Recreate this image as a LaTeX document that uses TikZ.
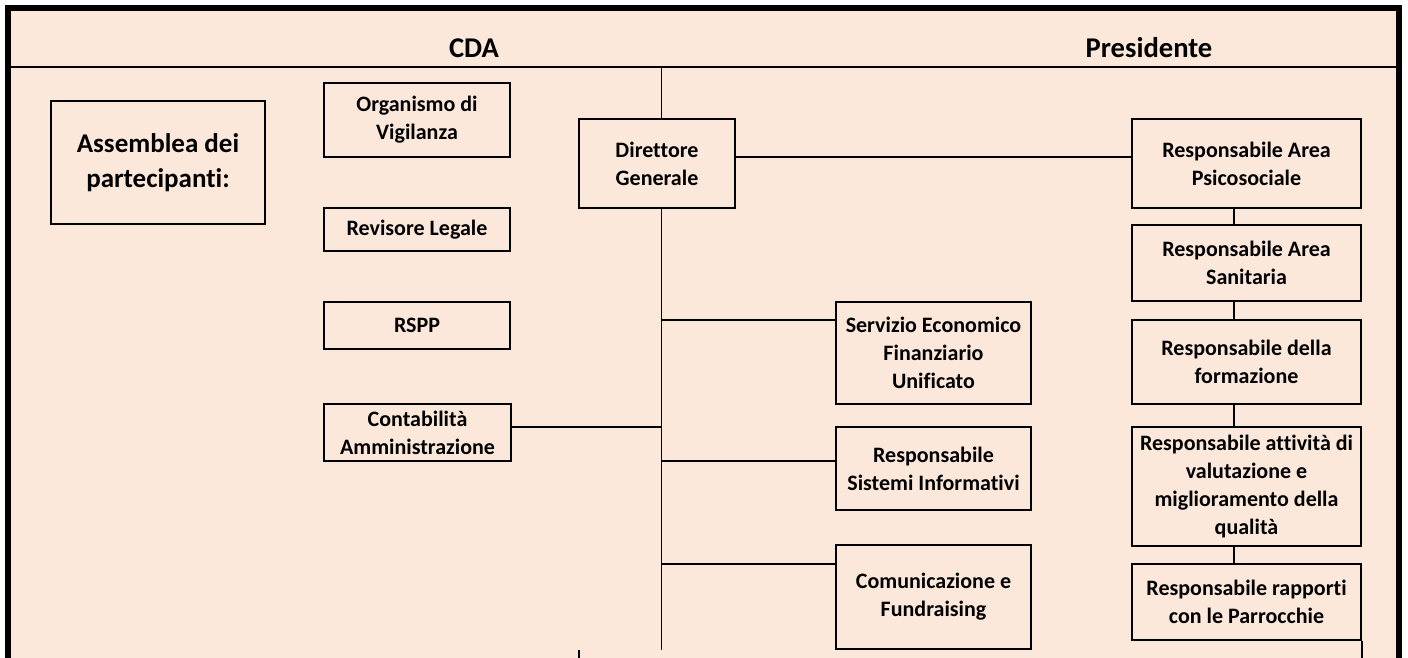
\documentclass[tikz,border=0pt]{standalone}
\usepackage{fontspec}
\setmainfont{Carlito}[Ligatures={NoCommon}]
\definecolor{peach}{HTML}{FCE8DA}
\begin{document}
\begin{tikzpicture}[x=0.5pt,y=-0.5pt,
  box/.style={draw, line width=0.75pt, inner sep=0pt, align=center, font=\fontsize{11}{14}\selectfont\bfseries},
  head/.style={anchor=base, font=\fontsize{14.3}{17}\selectfont\bfseries},
  conn/.style={line width=0.75pt}]
\useasboundingbox (0,0) rectangle (1408,658);
\fill[white] (0,0) rectangle (1408,658);
\fill[peach] (5,5) rectangle (1402,658);
\draw[line width=3pt] (8,658) -- (8,8.5) -- (1398.5,8.5) -- (1398.5,658);
\draw[conn] (11,67) -- (1396,67);

\node[head] (cda) at (474,58) {CDA};
\node[head] (pres) at (1149,58) {Presidente};

\node[box, minimum width=107pt, minimum height=61.5pt, font=\fontsize{13.5}{17.5}\selectfont\bfseries] (assem) at (158,162.5) {Assemblea dei\\partecipanti:};
\node[box, minimum width=93pt, minimum height=37pt] (odv) at (417,120) {Organismo di\\Vigilanza};
\node[box, minimum width=93pt, minimum height=21.5pt] (rev) at (417,229.5) {Revisore Legale};
\node[box, minimum width=93pt, minimum height=23.5pt] (rspp) at (417,325.5) {RSPP};
\node[box, minimum width=93.5pt, minimum height=28.5pt] (cont) at (417.5,432.5) {Contabilità\\Amministrazione};
\node[box, minimum width=78pt, minimum height=44.5pt] (dg) at (657,163.5) {Direttore\\Generale};
\node[box, minimum width=97.5pt, minimum height=51pt] (sefu) at (933.5,353) {Servizio Economico\\Finanziario\\Unificato};
\node[box, minimum width=97.5pt, minimum height=41.5pt] (rsi) at (933.5,468.5) {Responsabile\\Sistemi Informativi};
\node[box, minimum width=97.5pt, minimum height=52pt] (cf) at (933.5,597) {Comunicazione e\\Fundraising};
\node[box, minimum width=114.5pt, minimum height=44.5pt] (rap) at (1246.5,163.5) {Responsabile Area\\Psicosociale};
\node[box, minimum width=114.5pt, minimum height=38pt] (ras) at (1246.5,263) {Responsabile Area\\Sanitaria};
\node[box, minimum width=114.5pt, minimum height=42pt] (rdf) at (1246.5,362) {Responsabile della\\formazione};
\node[box, minimum width=114.5pt, minimum height=59.5pt] (rav) at (1246.5,486.5) {Responsabile attività di\\valutazione e\\miglioramento della\\qualità};
\node[box, minimum width=114.5pt, minimum height=38pt] (rrp) at (1246.5,602) {Responsabile rapporti\\con le Parrocchie};

% main vertical
\coordinate (top) at (661.5,67);
\coordinate (bot) at (661.5,650);
\coordinate (b1) at (661.5,320);
\coordinate (b2) at (661.5,461);
\coordinate (b3) at (661.5,564);
\coordinate (bc) at (661.5,427);
\draw[conn] (top) -- (dg.north -| top);
\draw[conn] (dg.south -| top) -- (bot);
\draw[conn] (b1) -- (b1 -| sefu.west);
\draw[conn] (b2) -- (b2 -| rsi.west);
\draw[conn] (b3) -- (b3 -| cf.west);
\draw[conn] (bc -| cont.east) -- (bc);
\draw[conn] ([yshift=3.25pt]dg.east) -- ([yshift=3.25pt]rap.west);

% right column chain
\draw[conn] ([xshift=-6.25pt]rap.south) -- ([xshift=-6.25pt]ras.north);
\draw[conn] ([xshift=-6.25pt]ras.south) -- ([xshift=-6.25pt]rdf.north);
\draw[conn] ([xshift=-6.25pt]rdf.south) -- ([xshift=-6.25pt]rav.north);
\draw[conn] ([xshift=-6.25pt]rav.south) -- ([xshift=-6.25pt]rrp.north);

% stray ends at bottom
\coordinate (t1) at (579,650);
\coordinate (t2) at (579,658);
\draw[conn] (t1) -- (t2);
\coordinate (t3) at (1360,658);
\draw[line width=1.2pt] (rrp.south east) -- (t3 -| rrp.south east);
\end{tikzpicture}
\end{document}
